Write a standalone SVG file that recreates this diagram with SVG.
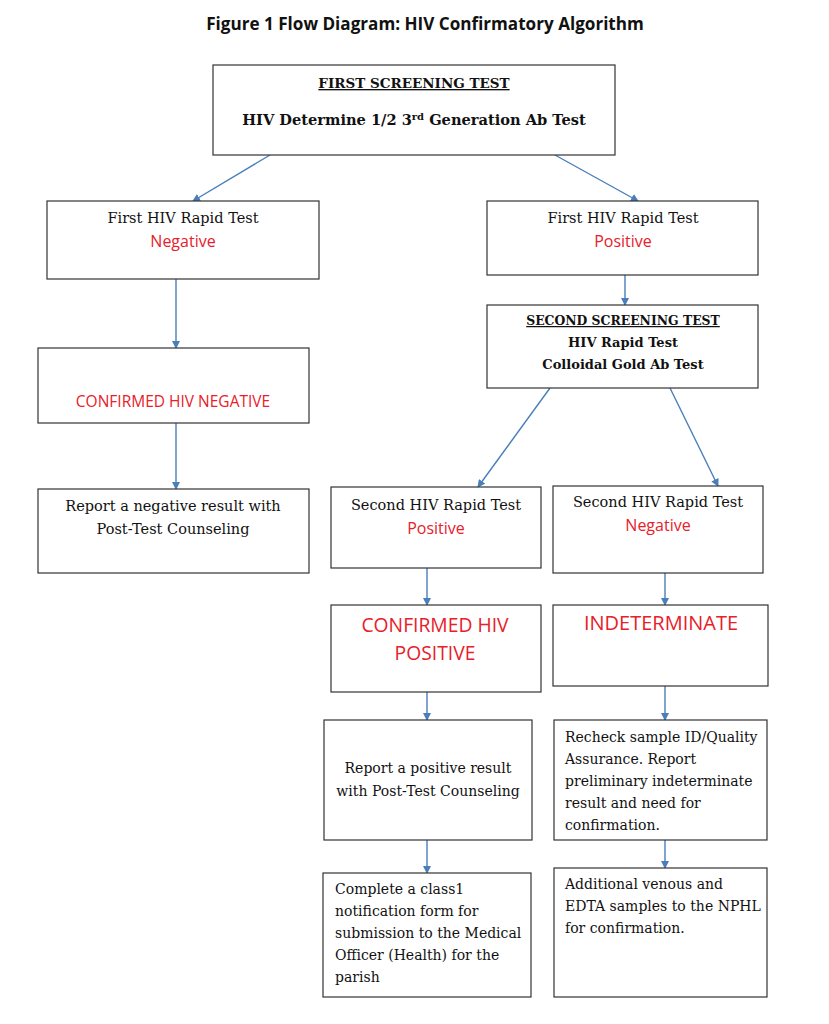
<svg xmlns="http://www.w3.org/2000/svg" width="829" height="1024" viewBox="0 0 829 1024">
<defs>
<marker id="ah" markerWidth="8" markerHeight="8" refX="7" refY="4" orient="auto" markerUnits="userSpaceOnUse">
<path d="M0,0 L8,4 L0,8 z" fill="#4a7ebb"/>
</marker>
<style>
.box{fill:#fff;stroke:#333;stroke-width:1.2}
.t{font-family:"DejaVu Serif","Liberation Serif",serif;font-size:14px;fill:#111}
.b{font-weight:bold}
.c{text-anchor:middle}
.r{font-family:"Open Sans","Noto Sans",sans-serif;fill:#e8202a}
.con line{stroke:#4a7ebb;stroke-width:1.4;marker-end:url(#ah)}
</style>
</defs>
<rect width="829" height="1024" fill="#fff"/>
<text x="425" y="30" class="c" style="font-family:'Open Sans','Noto Sans',sans-serif;font-weight:bold;font-size:17.1px;fill:#111">Figure 1 Flow Diagram: HIV Confirmatory Algorithm</text>

<g class="con">
<line x1="270" y1="155" x2="193" y2="201"/>
<line x1="555" y1="155" x2="638" y2="201"/>
<line x1="176" y1="279" x2="176" y2="348"/>
<line x1="176" y1="423" x2="176" y2="489"/>
<line x1="625" y1="275" x2="625" y2="305"/>
<line x1="550" y1="388" x2="478" y2="487"/>
<line x1="670" y1="388" x2="718" y2="486"/>
<line x1="427" y1="568" x2="427" y2="605"/>
<line x1="665" y1="573" x2="665" y2="605"/>
<line x1="427" y1="692" x2="427" y2="720"/>
<line x1="665" y1="686" x2="665" y2="720"/>
<line x1="427" y1="840" x2="427" y2="873"/>
<line x1="665" y1="840" x2="665" y2="868"/>
</g>

<g id="first-screening">
<rect class="box" x="213" y="65" width="402" height="90"/>
<text x="414" y="88" class="t b c" style="font-size:13.5px" text-decoration="underline">FIRST SCREENING TEST</text>
<text x="414" y="125" class="t b c" style="font-size:14.6px">HIV Determine 1/2 3<tspan dy="-5" style="font-size:10px">rd</tspan><tspan dy="5"> Generation Ab Test</tspan></text>
</g>

<g id="first-negative">
<rect class="box" x="47" y="201" width="272" height="78"/>
<text x="183" y="223" class="t c" style="font-size:14.5px">First HIV Rapid Test</text>
<text x="183" y="247" class="r c" style="font-size:16px">Negative</text>
</g>

<g id="first-positive">
<rect class="box" x="487" y="201" width="271" height="74"/>
<text x="623" y="223" class="t c" style="font-size:14.5px">First HIV Rapid Test</text>
<text x="623" y="247" class="r c" style="font-size:16px">Positive</text>
</g>

<g id="second-screening">
<rect class="box" x="487" y="305" width="271" height="83"/>
<text x="623" y="325" class="t b c" style="font-size:12.4px" text-decoration="underline">SECOND SCREENING TEST</text>
<text x="623" y="347" class="t b c" style="font-size:13px">HIV Rapid Test</text>
<text x="623" y="369" class="t b c" style="font-size:13px">Colloidal Gold Ab Test</text>
</g>

<g id="confirmed-negative">
<rect class="box" x="38" y="348" width="271" height="75"/>
<text x="173" y="407" class="r c" style="font-size:15.5px">CONFIRMED HIV NEGATIVE</text>
</g>

<g id="report-negative">
<rect class="box" x="38" y="489" width="271" height="84"/>
<text x="173" y="511" class="t c" style="font-size:14.5px">Report a negative result with</text>
<text x="173" y="534" class="t c" style="font-size:14.5px">Post-Test Counseling</text>
</g>

<g id="second-positive">
<rect class="box" x="331" y="487" width="210" height="81"/>
<text x="436" y="510" class="t c" style="font-size:14.5px">Second HIV Rapid Test</text>
<text x="436" y="534" class="r c" style="font-size:16px">Positive</text>
</g>

<g id="second-negative">
<rect class="box" x="553" y="486" width="210" height="87"/>
<text x="658" y="507" class="t c" style="font-size:14.5px">Second HIV Rapid Test</text>
<text x="658" y="531" class="r c" style="font-size:16px">Negative</text>
</g>

<g id="confirmed-positive">
<rect class="box" x="331" y="605" width="210" height="87"/>
<text x="435" y="632" class="r c" style="font-size:19.3px">CONFIRMED HIV</text>
<text x="435" y="660" class="r c" style="font-size:19.3px">POSITIVE</text>
</g>

<g id="indeterminate">
<rect class="box" x="553" y="605" width="215" height="81"/>
<text x="661" y="630" class="r c" style="font-size:20px">INDETERMINATE</text>
</g>

<g id="report-positive">
<rect class="box" x="324" y="720" width="208" height="120"/>
<text x="428" y="773" class="t c">Report a positive result</text>
<text x="428" y="796" class="t c">with Post-Test Counseling</text>
</g>

<g id="recheck">
<rect class="box" x="554" y="720" width="213" height="120"/>
<text x="565" y="742" class="t">Recheck sample ID/Quality</text>
<text x="565" y="764" class="t">Assurance. Report</text>
<text x="565" y="786" class="t">preliminary indeterminate</text>
<text x="565" y="808" class="t">result and need for</text>
<text x="565" y="830" class="t">confirmation.</text>
</g>

<g id="class1">
<rect class="box" x="323" y="873" width="208" height="124"/>
<text x="335" y="894" class="t">Complete a class1</text>
<text x="335" y="916" class="t">notification form for</text>
<text x="335" y="938" class="t">submission to the Medical</text>
<text x="335" y="960" class="t">Officer (Health) for the</text>
<text x="335" y="982" class="t">parish</text>
</g>

<g id="additional">
<rect class="box" x="554" y="868" width="213" height="129"/>
<text x="565" y="889" class="t">Additional venous and</text>
<text x="565" y="911" class="t">EDTA samples to the NPHL</text>
<text x="565" y="933" class="t">for confirmation.</text>
</g>
</svg>
